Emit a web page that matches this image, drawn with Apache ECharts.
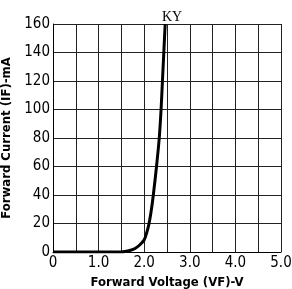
<!DOCTYPE html>
<html>
<head>
<meta charset="utf-8">
<script src="https://cdn.jsdelivr.net/npm/echarts@6/dist/echarts.min.js"></script>
<style>
html, body { margin: 0; padding: 0; background: #fff; }
#chart { width: 292px; height: 289px; }
</style>
</head>
<body>
<div id="chart"></div>
<script>
// forward voltage (V) vs forward current (mA)
var voltage = [0, 0.5, 1.0, 1.5, 1.6, 1.7, 1.8, 1.9, 2.0, 2.05, 2.1, 2.15, 2.2, 2.27, 2.33, 2.37, 2.4, 2.43, 2.46];
var current = [0, 0, 0, 0, 0.5, 1.2, 2.5, 4.9, 8.5, 13, 19, 28, 40, 60, 80, 100, 120, 140, 160];
var xLabels = ['0', '1.0', '2.0', '3.0', '4.0', '5.0'];

var pts = [];
for (var i = 0; i < voltage.length; i++) {
    pts.push([voltage[i], current[i]]);
}

var labelFont = 'DejaVu Sans Condensed';

var myChart = echarts.init(document.getElementById('chart'));
myChart.setOption({
    animation: false,
    title: {
        text: 'KY',
        left: 167,
        textAlign: 'center',
        top: 5,
        textStyle: {
            fontFamily: 'Liberation Serif',
            fontSize: 14,
            fontWeight: 'normal',
            color: '#000'
        }
    },
    grid: {
        left: 53,
        right: 11,
        top: 24,
        bottom: 37,
        outerBoundsMode: 'none'
    },
    xAxis: {
        type: 'value',
        min: 0,
        max: 5,
        interval: 0.5,
        name: 'Forward Voltage (VF)-V',
        nameLocation: 'middle',
        nameGap: 22,
        nameTextStyle: {
            fontFamily: labelFont,
            fontSize: 13,
            fontWeight: 'bold',
            color: '#000'
        },
        axisLine: { lineStyle: { color: '#000', width: 1 } },
        axisTick: { show: false },
        axisLabel: {
            margin: 4,
            fontFamily: labelFont,
            fontSize: 15,
            color: '#000',
            showMaxLabel: true,
            formatter: function (v) {
                if (Math.abs(v - Math.round(v)) > 0.01) return '';
                return xLabels[Math.round(v)];
            }
        },
        splitLine: { show: true, lineStyle: { color: '#222', width: 1 } }
    },
    yAxis: {
        type: 'value',
        min: 0,
        max: 160,
        interval: 20,
        name: 'Forward Current (IF)-mA',
        nameLocation: 'middle',
        nameGap: 31,
        nameTextStyle: {
            fontFamily: labelFont,
            fontSize: 13,
            fontWeight: 'bold',
            color: '#000'
        },
        axisLine: { show: true, lineStyle: { color: '#000', width: 1 } },
        axisTick: { show: false },
        axisLabel: {
            margin: 3,
            fontFamily: labelFont,
            fontSize: 15,
            color: '#000'
        },
        splitLine: { show: true, lineStyle: { color: '#222', width: 1 } }
    },
    series: [{
        type: 'line',
        data: pts,
        smooth: 0.3,
        symbol: 'none',
        lineStyle: { color: '#000', width: 3 }
    }]
});
</script>
</body>
</html>
